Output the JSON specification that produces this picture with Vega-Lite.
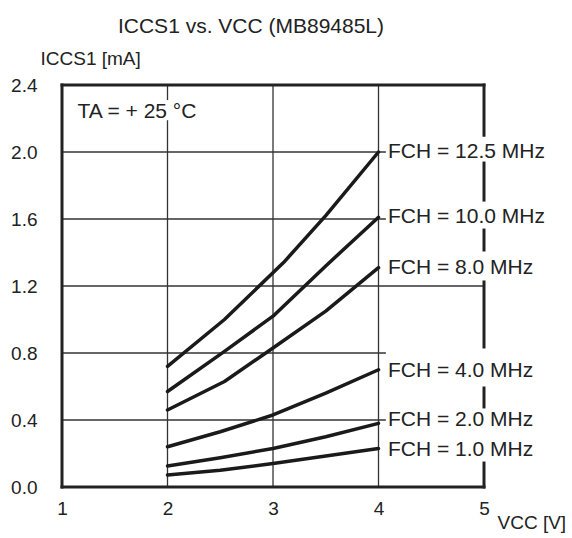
{
  "$schema": "https://vega.github.io/schema/vega-lite/v6.json",
  "autosize": "none",
  "width": 422,
  "height": 402,
  "padding": {"left": 62, "top": 85, "right": 88, "bottom": 51},
  "background": "white",
  "config": {"view": {"stroke": null}, "font": "Liberation Sans"},
  "title": {"text": "ICCS1 vs. VCC (MB89485L)", "fontSize": 21, "fontWeight": "normal", "color": "#222", "anchor": "middle", "dx": -22, "offset": 12, "font": "Liberation Sans"},
  "datasets": {
    "curves": [
      {"v": 2, "i": 0.072, "f": "1.0"}, {"v": 2.5, "i": 0.1, "f": "1.0"}, {"v": 3, "i": 0.14, "f": "1.0"}, {"v": 3.5, "i": 0.185, "f": "1.0"}, {"v": 4, "i": 0.23, "f": "1.0"},
      {"v": 2, "i": 0.125, "f": "2.0"}, {"v": 2.5, "i": 0.175, "f": "2.0"}, {"v": 3, "i": 0.23, "f": "2.0"}, {"v": 3.5, "i": 0.3, "f": "2.0"}, {"v": 4, "i": 0.38, "f": "2.0"},
      {"v": 2, "i": 0.24, "f": "4.0"}, {"v": 2.5, "i": 0.33, "f": "4.0"}, {"v": 3, "i": 0.43, "f": "4.0"}, {"v": 3.5, "i": 0.56, "f": "4.0"}, {"v": 4, "i": 0.7, "f": "4.0"},
      {"v": 2, "i": 0.46, "f": "8.0"}, {"v": 2.54, "i": 0.63, "f": "8.0"}, {"v": 3, "i": 0.83, "f": "8.0"}, {"v": 3.5, "i": 1.05, "f": "8.0"}, {"v": 4, "i": 1.31, "f": "8.0"},
      {"v": 2, "i": 0.57, "f": "10.0"}, {"v": 2.54, "i": 0.81, "f": "10.0"}, {"v": 3, "i": 1.02, "f": "10.0"}, {"v": 3.5, "i": 1.32, "f": "10.0"}, {"v": 4, "i": 1.61, "f": "10.0"},
      {"v": 2, "i": 0.72, "f": "12.5"}, {"v": 2.54, "i": 1.0, "f": "12.5"}, {"v": 3.1, "i": 1.34, "f": "12.5"}, {"v": 3.5, "i": 1.62, "f": "12.5"}, {"v": 4, "i": 2.0, "f": "12.5"}
    ],
    "labels": [
      {"x": 4.09, "y": 2.0, "t": "FCH = 12.5 MHz"},
      {"x": 4.09, "y": 1.61, "t": "FCH = 10.0 MHz"},
      {"x": 4.09, "y": 1.31, "t": "FCH = 8.0 MHz"},
      {"x": 4.09, "y": 0.69, "t": "FCH = 4.0 MHz"},
      {"x": 4.09, "y": 0.4, "t": "FCH = 2.0 MHz"},
      {"x": 4.09, "y": 0.22, "t": "FCH = 1.0 MHz"}
    ],
    "grid": [
      {"x": 2, "x2": 2, "y": 0, "y2": 2.19},
      {"x": 2, "x2": 2, "y": 2.31, "y2": 2.4},
      {"x": 3, "x2": 3, "y": 0, "y2": 2.4},
      {"x": 4, "x2": 4, "y": 0, "y2": 2.4},
      {"x": 1, "x2": 4.07, "y": 0.4, "y2": 0.4},
      {"x": 1, "x2": 4.07, "y": 0.8, "y2": 0.8},
      {"x": 1, "x2": 5, "y": 1.2, "y2": 1.2},
      {"x": 1, "x2": 4.07, "y": 1.6, "y2": 1.6},
      {"x": 1, "x2": 4.07, "y": 2.0, "y2": 2.0}
    ],
    "frame": [
      {"x": 1, "x2": 1, "y": 0, "y2": 2.4},
      {"x": 1, "x2": 5, "y": 2.4, "y2": 2.4},
      {"x": 1, "x2": 5, "y": 0, "y2": 0},
      {"x": 5, "x2": 5, "y": 2.4, "y2": 2.1},
      {"x": 5, "x2": 5, "y": 1.934, "y2": 1.713},
      {"x": 5, "x2": 5, "y": 1.534, "y2": 1.415},
      {"x": 5, "x2": 5, "y": 1.224, "y2": 0.836},
      {"x": 5, "x2": 5, "y": 0.591, "y2": 0.478},
      {"x": 5, "x2": 5, "y": 0.143, "y2": 0}
    ],
    "note": [{"x": 1.147, "y": 2.24, "t": "TA = + 25 °C"}]
  },
  "layer": [
    {
      "data": {"name": "grid"},
      "mark": {"type": "rule", "stroke": "#333", "strokeWidth": 1.3},
      "encoding": {
        "x": {"field": "x", "type": "quantitative", "scale": {"domain": [1, 5], "nice": false, "zero": false},
          "axis": {"values": [1, 2, 3, 4, 5], "format": "d", "domain": false, "ticks": false, "grid": false, "labelFontSize": 19, "labelColor": "#222", "labelPadding": 12, "labelFlush": false,
            "title": "VCC [V]", "titleFontSize": 19, "titleFontWeight": "normal", "titleColor": "#222", "titleAlign": "left", "titleAnchor": null, "titleX": 435, "titleY": 35, "titleBaseline": "middle"}},
        "x2": {"field": "x2"},
        "y": {"field": "y", "type": "quantitative", "scale": {"domain": [0, 2.4], "nice": false, "zero": false},
          "axis": {"values": [0, 0.4, 0.8, 1.2, 1.6, 2.0, 2.4], "format": ".1f", "domain": false, "ticks": false, "grid": false, "labelFontSize": 19, "labelColor": "#222", "labelPadding": 25, "labelFlush": false,
            "title": "ICCS1 [mA]", "titleFontSize": 19, "titleFontWeight": "normal", "titleColor": "#222", "titleAngle": 0, "titleAlign": "left", "titleAnchor": null, "titleX": -22, "titleY": -27, "titleBaseline": "middle"}},
        "y2": {"field": "y2"}
      }
    },
    {
      "data": {"name": "frame"},
      "mark": {"type": "rule", "stroke": "#222", "strokeWidth": 3, "strokeCap": "square"},
      "encoding": {
        "x": {"field": "x", "type": "quantitative"},
        "x2": {"field": "x2"},
        "y": {"field": "y", "type": "quantitative"},
        "y2": {"field": "y2"}
      }
    },
    {
      "data": {"name": "curves"},
      "mark": {"type": "line", "stroke": "#1a1a1a", "strokeWidth": 3.5, "strokeCap": "round", "strokeJoin": "round"},
      "encoding": {
        "x": {"field": "v", "type": "quantitative"},
        "y": {"field": "i", "type": "quantitative"},
        "detail": {"field": "f", "type": "nominal"}
      }
    },
    {
      "data": {"name": "labels"},
      "mark": {"type": "text", "align": "left", "baseline": "middle", "fontSize": 21, "color": "#222"},
      "encoding": {
        "x": {"field": "x", "type": "quantitative"},
        "y": {"field": "y", "type": "quantitative"},
        "text": {"field": "t"}
      }
    },
    {
      "data": {"name": "note"},
      "mark": {"type": "text", "align": "left", "baseline": "middle", "fontSize": 21, "color": "#222"},
      "encoding": {
        "x": {"field": "x", "type": "quantitative"},
        "y": {"field": "y", "type": "quantitative"},
        "text": {"field": "t"}
      }
    }
  ]
}
